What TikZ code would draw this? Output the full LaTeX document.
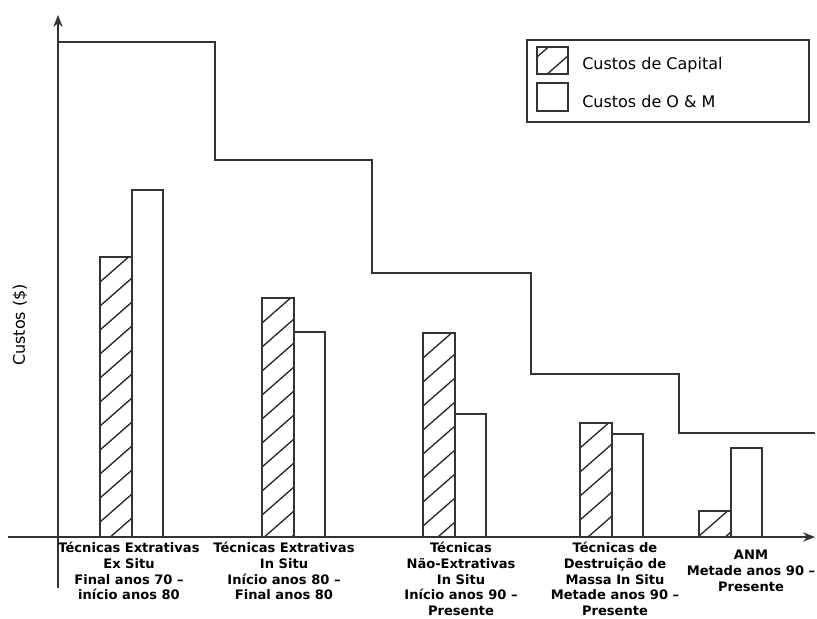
\documentclass[tikz,border=0pt]{standalone}
\usepackage{fontspec}
\setmainfont{DejaVu Sans}
\usetikzlibrary{calc}
\usetikzlibrary{arrows.meta}

\begin{document}
\begin{tikzpicture}[x=0.75pt, y=-0.75pt,
  ln/.style={black!80, line width=0.9pt},
  hatch/.style={black!85, line width=1pt},
  lbl/.style={anchor=north, align=center, inner sep=0pt, font=\fontsize{9.8}{11.8}\selectfont\bfseries},
  txt/.style={inner sep=0pt, font=\fontsize{12}{14}\selectfont}]
\useasboundingbox (0,0) rectangle (817,618);

% axes
\draw[ln, -{Stealth[length=9pt,width=7pt]}] (58,588)--(58,15);
\draw[ln, -{Stealth[length=9pt,width=7pt]}] (8,537)--(815,537);
\node[txt, rotate=90] (ylabel) at (20,325) {Custos (\$)};

% step line
\draw[ln] (58,42)--(215,42)--(215,160)--(372,160)--(372,273)--(531,273)--(531,374)--(679,374)--(679,433)--(815,433);

% bars: capital (hatched) / O&M
\foreach \xa/\ha/\hb in {100/257/190, 262/298/332, 423/333/414, 580/423/434, 699/511/448}{
  \begin{scope}
    \clip (\xa,\ha) rectangle (\xa+32,537);
    \foreach \k in {0,...,12}
      \draw[hatch] (\xa,\ha+25+24*\k) -- ++(32,-28);
  \end{scope}
  \draw[ln] (\xa,537) rectangle (\xa+32,\ha);
  \draw[ln] (\xa+32,537) rectangle (\xa+63,\hb);
}

% legend
\draw[ln] (527,40) rectangle (809,122);
\begin{scope}
  \clip (537,47) rectangle (568,74);
  \draw[hatch] (537,57) -- ++(32,-28);
  \draw[hatch] (537,83) -- ++(32,-28);
\end{scope}
\draw[ln] (537,47) rectangle (568,74);
\draw[ln] (537,83) rectangle (568,111);
\node[txt, anchor=base west] (capital) at (582,69) {Custos de Capital};
\node[txt, anchor=base west] (om) at (582,107) {Custos de O \& M};

% group labels
\node[lbl] (exsitu) at (129,542) {Técnicas Extrativas\\Ex Situ\\Final anos 70 –\\início anos 80};
\node[lbl] (insitu) at (284,542) {Técnicas Extrativas\\In Situ\\Início anos 80 –\\Final anos 80};
\node[lbl] (naoextr) at (461,542) {Técnicas\\Não-Extrativas\\In Situ\\Início anos 90 –\\Presente};
\node[lbl] (destr) at (615,542) {Técnicas de\\Destruição de\\Massa In Situ\\Metade anos 90 –\\Presente};
\node[lbl] (anm) at (751,550) {ANM\\Metade anos 90 –\\Presente};

\end{tikzpicture}
\end{document}
